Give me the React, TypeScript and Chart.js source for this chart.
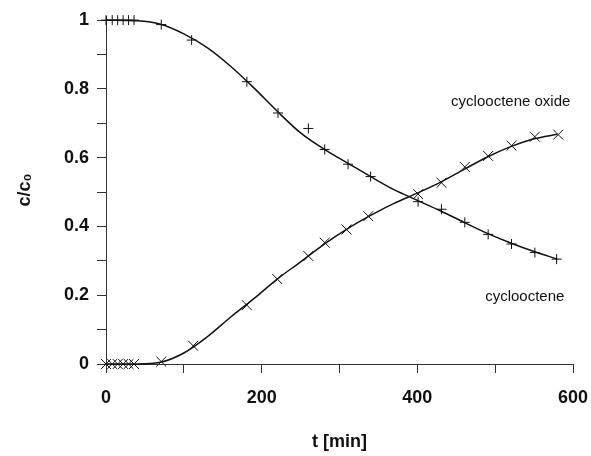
import React, { useEffect, useRef } from "react";
import { Chart, registerables } from "chart.js";

Chart.register(...registerables);

// measured points: cyclooctene (+)
const cycloocteneT = [0, 8, 15, 22, 29, 36, 71, 110, 181, 221, 260, 281, 311, 340, 401, 431, 461, 491, 521, 551, 579];
const cycloocteneC = [1.0, 1.0, 1.0, 1.0, 1.0, 1.0, 0.987, 0.942, 0.821, 0.73, 0.685, 0.624, 0.581, 0.545, 0.472, 0.45, 0.412, 0.377, 0.349, 0.324, 0.305];

// measured points: cyclooctene oxide (x)
const oxideT = [0, 8, 15, 22, 29, 36, 71, 112, 181, 220, 260, 281, 309, 337, 401, 431, 461, 491, 521, 551, 581];
const oxideC = [0, 0, 0, 0, 0, 0, 0.007, 0.053, 0.171, 0.247, 0.314, 0.353, 0.391, 0.43, 0.494, 0.527, 0.573, 0.605, 0.635, 0.661, 0.667];

// fitted curves
const fitT = [0, 40, 70, 100, 130, 160, 190, 220, 250, 280, 310, 340, 370, 400, 430, 460, 490, 520, 550, 580];
const cycloocteneFit = [1.0, 0.998, 0.988, 0.96, 0.92, 0.866, 0.803, 0.735, 0.672, 0.625, 0.585, 0.545, 0.507, 0.476, 0.445, 0.412, 0.38, 0.352, 0.327, 0.305];
const oxideFit = [0, 0, 0.005, 0.032, 0.079, 0.136, 0.19, 0.247, 0.297, 0.348, 0.393, 0.432, 0.467, 0.497, 0.529, 0.566, 0.602, 0.632, 0.655, 0.668];

const xTicks = [0, 100, 200, 300, 400, 500, 600];
const yTicks = [0, 0.1, 0.2, 0.3, 0.4, 0.5, 0.6, 0.7, 0.8, 0.9, 1.0];

const seriesLabels = ["cyclooctene", "cyclooctene oxide"];

const toPts = (xs: number[], ys: number[]) => xs.map((x, i) => ({ x, y: ys[i] }));

const labelPlugin = {
  id: "curveLabels",
  afterDraw(chart: any) {
    const { ctx, scales } = chart;
    const xs = scales.x;
    const ys = scales.y;
    ctx.save();
    ctx.fillStyle = "#111";
    ctx.font = '15px "Liberation Sans", Arial, sans-serif';
    ctx.textAlign = "center";
    ctx.textBaseline = "middle";
    ctx.fillText(seriesLabels[1], xs.getPixelForValue(520), ys.getPixelForValue(0.762));
    ctx.fillText(seriesLabels[0], xs.getPixelForValue(538), ys.getPixelForValue(0.196));
    ctx.restore();
  },
};

export default function App() {
  const ref = useRef<HTMLCanvasElement | null>(null);

  useEffect(() => {
    if (!ref.current) return;
    const tickFont = { family: '"Liberation Sans", Arial, sans-serif', size: 18, weight: "bold" as const };
    const chart = new Chart(ref.current, {
      type: "scatter",
      data: {
        datasets: [
          {
            label: "cyclooctene fit",
            data: toPts(fitT, cycloocteneFit),
            showLine: true,
            borderColor: "#111",
            borderWidth: 1.5,
            pointRadius: 0,
            cubicInterpolationMode: "monotone",
            clip: false,
          },
          {
            label: "cyclooctene oxide fit",
            data: toPts(fitT, oxideFit),
            showLine: true,
            borderColor: "#111",
            borderWidth: 1.5,
            pointRadius: 0,
            cubicInterpolationMode: "monotone",
            clip: false,
          },
          {
            label: seriesLabels[0],
            data: toPts(cycloocteneT, cycloocteneC),
            showLine: false,
            pointStyle: "cross",
            pointRadius: 5,
            borderColor: "#111",
            borderWidth: 1,
            clip: false,
          },
          {
            label: seriesLabels[1],
            data: toPts(oxideT, oxideC),
            showLine: false,
            pointStyle: "crossRot",
            pointRadius: 7,
            borderColor: "#111",
            borderWidth: 1,
            clip: false,
          },
        ],
      },
      options: {
        animation: false,
        responsive: false,
        devicePixelRatio: 1,
        layout: { padding: { left: 0, right: 18, top: 16, bottom: 0 } },
        plugins: { legend: { display: false }, tooltip: { enabled: false } },
        scales: {
          x: {
            type: "linear",
            min: 0,
            max: 600,
            afterFit: (s: any) => {
              s.height = 92;
              s.paddingLeft = 0;
              s.paddingRight = 0;
            },
            afterBuildTicks: (s: any) => { s.ticks = xTicks.map((v) => ({ value: v })); },
            grid: { drawOnChartArea: false, drawTicks: true, tickLength: 9, tickColor: "#333" },
            border: { display: true, color: "#333", width: 1 },
            ticks: {
              color: "#111",
              font: tickFont,
              padding: 14,
              maxRotation: 0,
              autoSkip: false,
              callback: (v: any) => (Number(v) % 200 === 0 ? String(v) : ""),
            },
            title: {
              display: true,
              text: "t [min]",
              color: "#111",
              font: tickFont,
              padding: { top: 0, bottom: 3 },
            },
          },
          y: {
            type: "linear",
            min: 0,
            max: 1.012,
            afterFit: (s: any) => {
              s.width = 106;
              s.paddingTop = 0;
              s.paddingBottom = 0;
            },
            afterBuildTicks: (s: any) => { s.ticks = yTicks.map((v) => ({ value: v })); },
            grid: { drawOnChartArea: false, drawTicks: true, tickLength: 9, tickColor: "#333" },
            border: { display: true, color: "#333", width: 1 },
            ticks: {
              color: "#111",
              font: tickFont,
              padding: 8,
              autoSkip: false,
              callback: (v: any) => {
                const n = Math.round(Number(v) * 10);
                if (n % 2 !== 0) return "";
                const val = n / 10;
                return val === 0 ? "0" : val === 1 ? "1" : val.toFixed(1);
              },
            },
            title: {
              display: true,
              text: "c/c₀",
              color: "#111",
              font: tickFont,
              padding: { top: 14, bottom: 0 },
            },
          },
        },
      },
      plugins: [labelPlugin],
    });
    return () => chart.destroy();
  }, []);

  return (
    <div style={{ position: "absolute", left: 0, top: 0, width: 591, height: 456, background: "#fff" }}>
      <canvas ref={ref} width={591} height={456} style={{ display: "block" }} />
    </div>
  );
}
